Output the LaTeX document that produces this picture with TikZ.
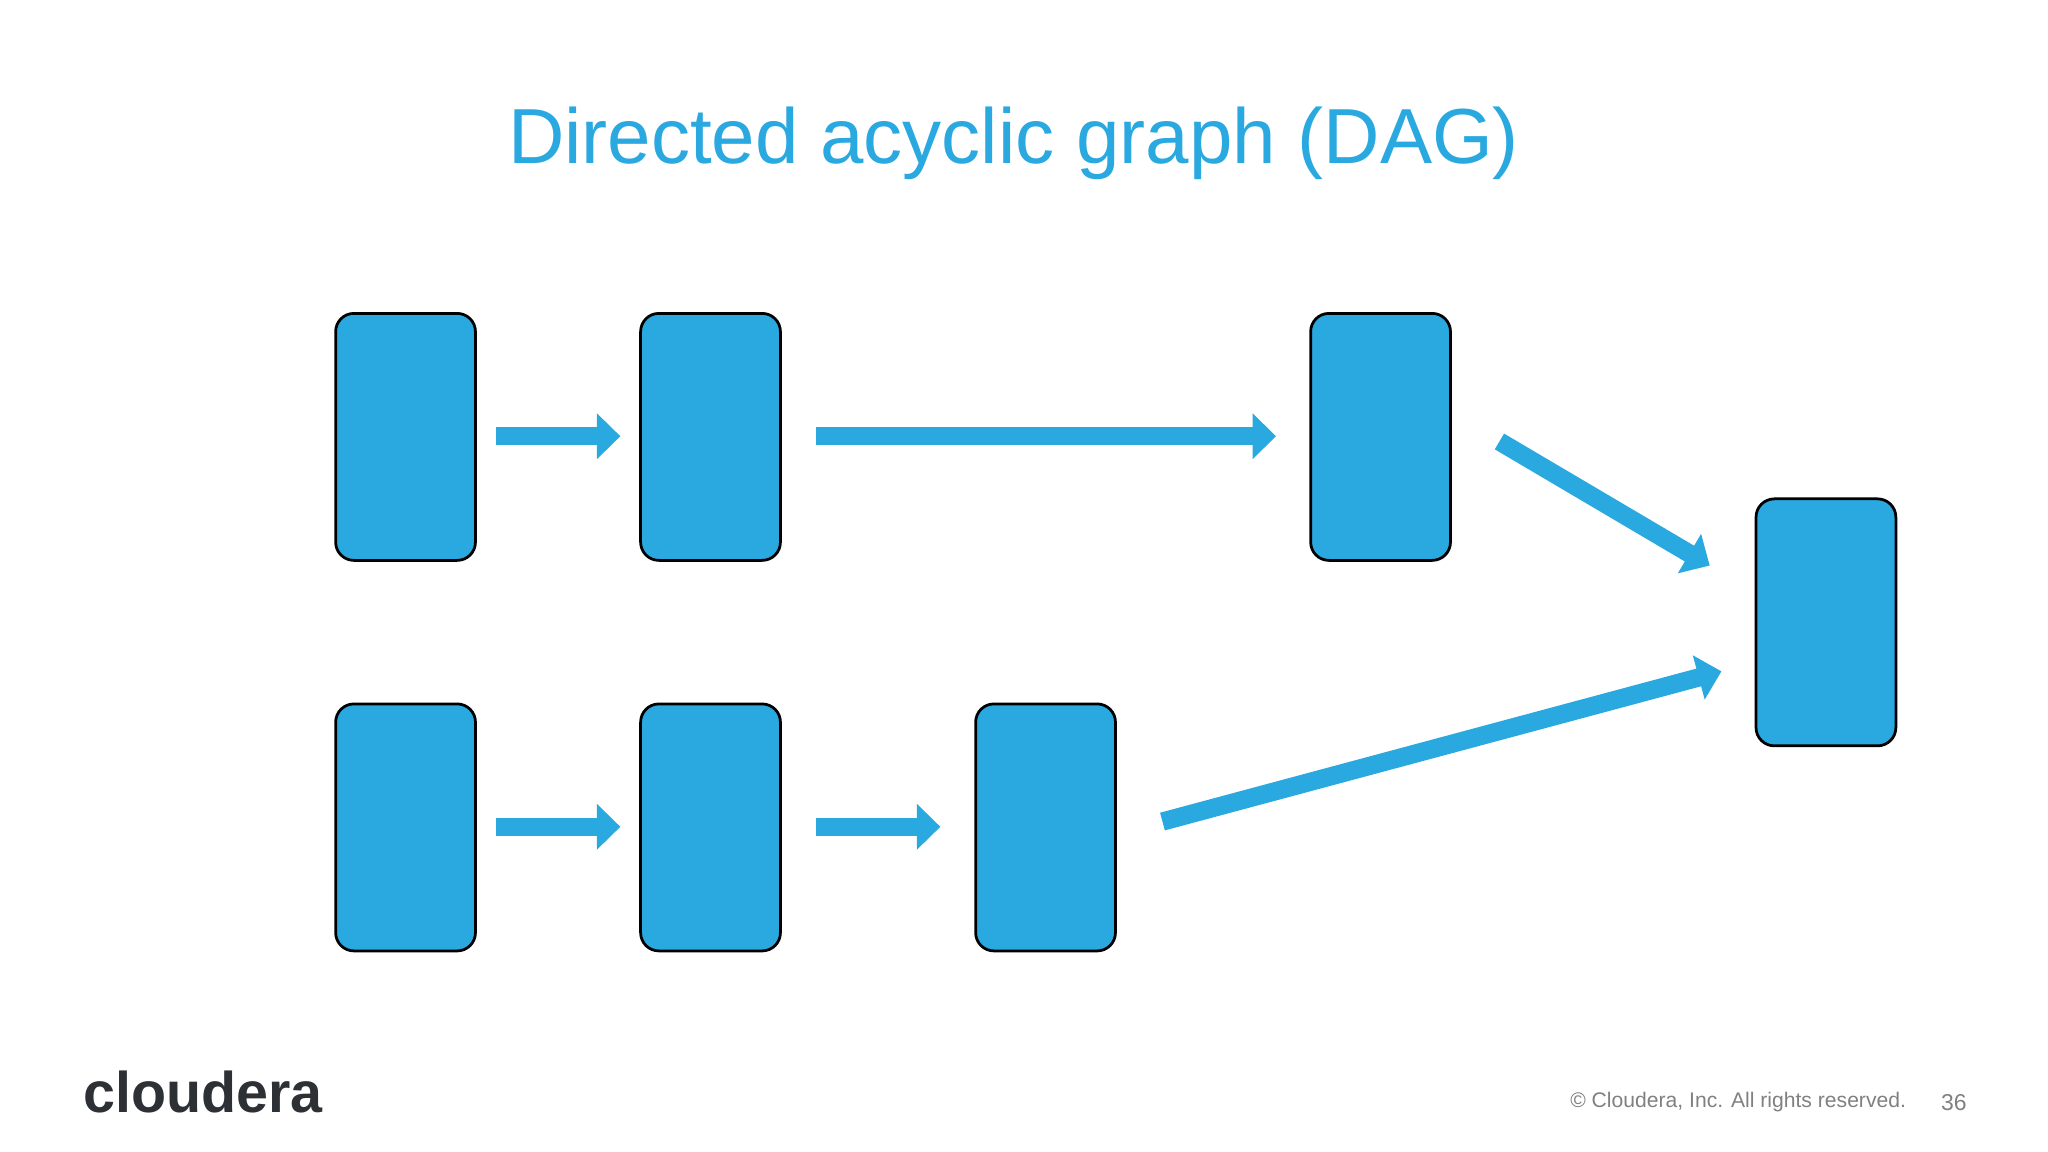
\documentclass[tikz,border=0pt]{standalone}
\usepackage{fontspec}
\setmainfont{Liberation Sans}
\usetikzlibrary{arrows.meta}
\definecolor{cblue}{RGB}{42,168,224}
\definecolor{cdark}{RGB}{45,48,52}
\begin{document}
\begin{tikzpicture}[x=0.01cm,y=-0.01cm,
  blk/.style={draw=black,line width=0.6pt,fill=cblue,rounded corners=0.14cm,minimum width=1.07cm,minimum height=1.89cm,inner sep=0pt},
  arr/.style={draw=cblue,line width=0.14cm,-{Triangle[length=0.18cm,width=0.34cm]}}]
\useasboundingbox (0,0) rectangle (1568,882);
\node (t) at (776,110) {\fontsize{17}{20}\selectfont\color{cblue}Directed acyclic graph (DAG)};
\node[blk] (a1) at (310.5,334.5) {};
\node[blk] (a2) at (544,334.5) {};
\node[blk] (a3) at (1057,334.5) {};
\node[blk] (r) at (1398,476.5) {};
\node[blk] (b1) at (310.5,633.5) {};
\node[blk] (b2) at (544,633.5) {};
\node[blk] (b3) at (800.5,633.5) {};
\coordinate (p1) at (380,334); \coordinate (q1) at (475,334);
\coordinate (p2) at (625,334); \coordinate (q2) at (977,334);
\coordinate (p3) at (380,633); \coordinate (q3) at (475,633);
\coordinate (p4) at (625,633); \coordinate (q4) at (720,633);
\coordinate (p5) at (1148,338); \coordinate (q5) at (1309,433);
\coordinate (p6) at (890,629); \coordinate (q6) at (1318,514);
\draw[arr] (p1) -- (q1);
\draw[arr] (p2) -- (q2);
\draw[arr] (p3) -- (q3);
\draw[arr] (p4) -- (q4);
\draw[arr] (p5) -- (q5);
\draw[arr] (p6) -- (q6);
\node[anchor=west,inner sep=0pt] (logo) at (63,836) {\fontsize{12.5}{14}\selectfont\bfseries\color{cdark}cloudera};
\node[anchor=east,inner sep=0pt] (c) at (1460,844) {\fontsize{4.6}{6}\selectfont\color{gray}© Cloudera, Inc. All rights reserved.};
\node[inner sep=0pt] (n) at (1496,844) {\fontsize{5}{6}\selectfont\color{gray}36};
\end{tikzpicture}
\end{document}
